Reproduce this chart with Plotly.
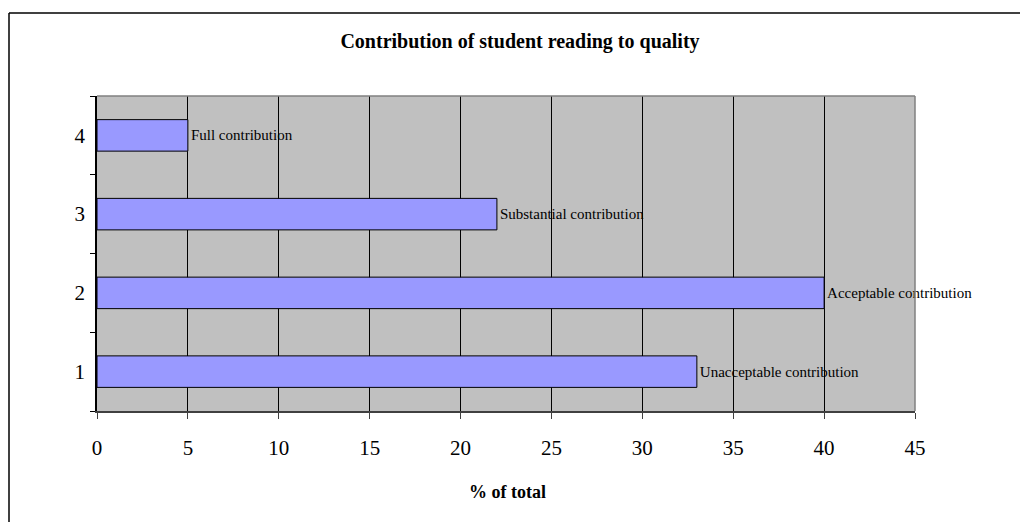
import plotly.graph_objects as go

# Share of total for each quality rating of student reading
ratings = ["1", "2", "3", "4"]
percent_of_total = [33, 40, 22, 5]
rating_labels = [
    "Unacceptable contribution",
    "Acceptable contribution",
    "Substantial contribution",
    "Full contribution",
]
x_ticks = [0, 5, 10, 15, 20, 25, 30, 35, 40, 45]

SERIF = "Liberation Serif, Times New Roman, serif"

# plotting-area geometry in pixels
PLOT_L, PLOT_R, PLOT_T, PLOT_B = 97, 915, 96, 411
PW, PH = PLOT_R - PLOT_L, PLOT_B - PLOT_T

fig = go.Figure(
    go.Bar(
        x=percent_of_total,
        y=ratings,
        orientation="h",
        width=0.4,
        marker=dict(color="#9999FF", line=dict(color="black", width=1)),
        text=rating_labels,
        textposition="outside",
        textfont=dict(family=SERIF, size=15, color="black"),
        constraintext="none",
        cliponaxis=False,
        hoverinfo="skip",
    )
)

fig.update_layout(
    width=1020,
    height=522,
    margin=dict(l=PLOT_L, r=1020 - PLOT_R, t=PLOT_T, b=522 - PLOT_B),
    paper_bgcolor="white",
    plot_bgcolor="#C0C0C0",
    showlegend=False,
    font=dict(family=SERIF, color="black"),
    title=dict(
        text="<b>Contribution of student reading to quality</b>",
        font=dict(family=SERIF, size=20, color="black"),
        x=520 / 1020,
        xref="container",
        xanchor="center",
        y=1 - 41 / 522,
        yref="container",
        yanchor="middle",
    ),
    xaxis=dict(
        range=[0, 45],
        tickvals=x_ticks,
        ticks="outside",
        ticklen=6,
        tickcolor="#404040",
        tickfont=dict(family=SERIF, size=21),
        ticklabelstandoff=11,
        showgrid=True,
        gridcolor="black",
        gridwidth=1,
        zeroline=False,
        showline=True,
        linecolor="#404040",
        linewidth=1.5,
        fixedrange=True,
    ),
    yaxis=dict(
        type="category",
        categoryorder="array",
        categoryarray=ratings,
        range=[-0.5, 3.5],
        tickson="boundaries",
        ticks="outside",
        ticklen=5,
        tickcolor="black",
        tickfont=dict(family=SERIF, size=21),
        ticklabelstandoff=6,
        showgrid=False,
        zeroline=False,
        showline=True,
        linecolor="black",
        linewidth=1.5,
        fixedrange=True,
    ),
    annotations=[
        dict(
            text="<b>% of total</b>",
            x=(507 - PLOT_L) / PW,
            xref="paper",
            y=-(492 - PLOT_B) / PH,
            yref="paper",
            xanchor="center",
            yanchor="middle",
            showarrow=False,
            font=dict(family=SERIF, size=18, color="black"),
        )
    ],
    shapes=[
        # gray frame on the top and right of the plotting area
        dict(type="line", xref="paper", yref="paper", x0=0, x1=1, y0=1, y1=1,
             line=dict(color="#808080", width=1.5), layer="above"),
        dict(type="line", xref="paper", yref="paper", x0=1, x1=1, y0=0, y1=1,
             line=dict(color="#808080", width=1.5), layer="above"),
        # outer chart border
        dict(type="line", xref="paper", yref="paper",
             x0=(9 - PLOT_L) / PW, x1=1.2,
             y0=1 + (PLOT_T - 13) / PH, y1=1 + (PLOT_T - 13) / PH,
             line=dict(color="black", width=1.5)),
        dict(type="line", xref="paper", yref="paper",
             x0=(9 - PLOT_L) / PW, x1=(9 - PLOT_L) / PW,
             y0=-0.5, y1=1 + (PLOT_T - 13) / PH,
             line=dict(color="black", width=1.5)),
    ],
)

fig.write_html("out.html")
